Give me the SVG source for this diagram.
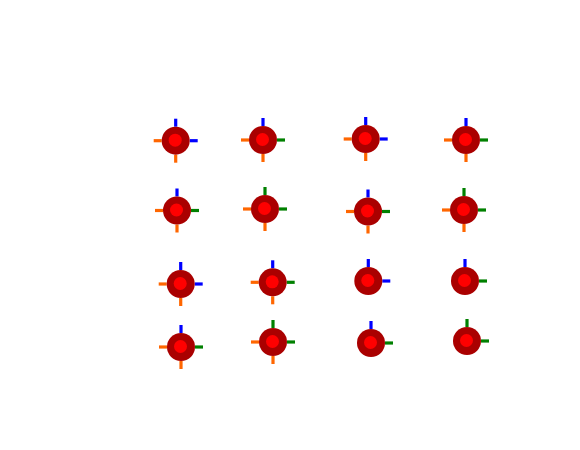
<svg xmlns="http://www.w3.org/2000/svg" xmlns:xlink="http://www.w3.org/1999/xlink" width="580" height="450" viewBox="0 0 580 450">
<style>
.outer{fill:#aa0000}
.inner{fill:#ff0000}
.b{stroke:#0000ff;stroke-width:3.2}
.g{stroke:#008000;stroke-width:3.2}
.o{stroke:#ff6600;stroke-width:3.2}
</style>
<defs>
<g id="body"><circle class="outer" r="14"/><circle class="inner" cx="-0.5" cy="-0.5" r="6.5"/></g>
<line id="tb" class="b" x1="0" y1="-14" x2="0" y2="-22"/>
<line id="tg" class="g" x1="0" y1="-14" x2="0" y2="-22"/>
<line id="rb" class="b" x1="14" y1="0" x2="22" y2="0"/>
<line id="rg" class="g" x1="14" y1="0" x2="22" y2="0"/>
<line id="lo" class="o" x1="-14" y1="0" x2="-22" y2="0"/>
<line id="bo" class="o" x1="0" y1="14" x2="0" y2="22"/>
</defs>
<rect width="580" height="450" fill="#ffffff"/>
<g id="connectors"></g>
<g id="n11" transform="translate(175.7,140.7)"><use xlink:href="#tb"/><use xlink:href="#rb"/><use xlink:href="#lo"/><use xlink:href="#bo"/><use xlink:href="#body"/></g>
<g id="n12" transform="translate(263,140)"><use xlink:href="#tb"/><use xlink:href="#rg"/><use xlink:href="#lo"/><use xlink:href="#bo"/><use xlink:href="#body"/></g>
<g id="n13" transform="translate(365.7,139)"><use xlink:href="#tb"/><use xlink:href="#rb"/><use xlink:href="#lo"/><use xlink:href="#bo"/><use xlink:href="#body"/></g>
<g id="n14" transform="translate(466,140)"><use xlink:href="#tb"/><use xlink:href="#rg"/><use xlink:href="#lo"/><use xlink:href="#bo"/><use xlink:href="#body"/></g>
<g id="n21" transform="translate(177,210.5)"><use xlink:href="#tb"/><use xlink:href="#rg"/><use xlink:href="#lo"/><use xlink:href="#bo"/><use xlink:href="#body"/></g>
<g id="n22" transform="translate(265,209)"><use xlink:href="#tg"/><use xlink:href="#rg"/><use xlink:href="#lo"/><use xlink:href="#bo"/><use xlink:href="#body"/></g>
<g id="n23" transform="translate(368,211.5)"><use xlink:href="#tb"/><use xlink:href="#rg"/><use xlink:href="#lo"/><use xlink:href="#bo"/><use xlink:href="#body"/></g>
<g id="n24" transform="translate(464,210)"><use xlink:href="#tg"/><use xlink:href="#rg"/><use xlink:href="#lo"/><use xlink:href="#bo"/><use xlink:href="#body"/></g>
<g id="n31" transform="translate(180.7,284)"><use xlink:href="#tb"/><use xlink:href="#rb"/><use xlink:href="#lo"/><use xlink:href="#bo"/><use xlink:href="#body"/></g>
<g id="n32" transform="translate(272.7,282.3)"><use xlink:href="#tb"/><use xlink:href="#rg"/><use xlink:href="#lo"/><use xlink:href="#bo"/><use xlink:href="#body"/></g>
<g id="n33" transform="translate(368.3,281)"><use xlink:href="#tb"/><use xlink:href="#rb"/><use xlink:href="#body"/></g>
<g id="n34" transform="translate(465,281)"><use xlink:href="#tb"/><use xlink:href="#rg"/><use xlink:href="#body"/></g>
<g id="n41" transform="translate(181,347)"><use xlink:href="#tb"/><use xlink:href="#rg"/><use xlink:href="#lo"/><use xlink:href="#bo"/><use xlink:href="#body"/></g>
<g id="n42" transform="translate(273,342)"><use xlink:href="#tg"/><use xlink:href="#rg"/><use xlink:href="#lo"/><use xlink:href="#bo"/><use xlink:href="#body"/></g>
<g id="n43" transform="translate(371,343)"><use xlink:href="#tb"/><use xlink:href="#rg"/><use xlink:href="#body"/></g>
<g id="n44" transform="translate(467,341)"><use xlink:href="#tg"/><use xlink:href="#rg"/><use xlink:href="#body"/></g>
</svg>
